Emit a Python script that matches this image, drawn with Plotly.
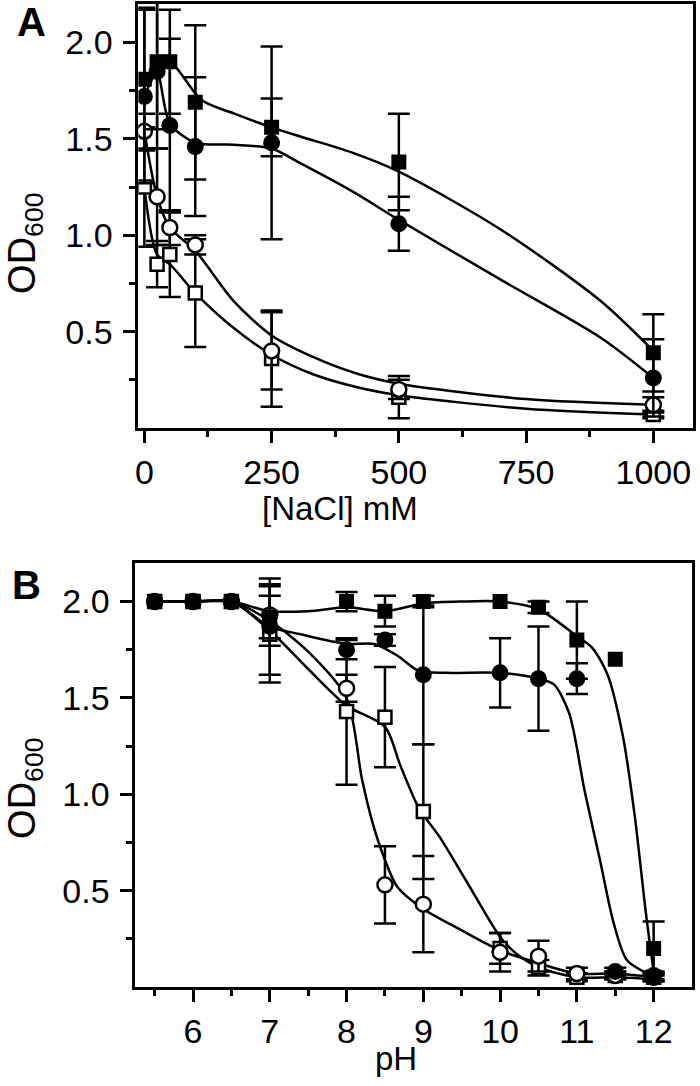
import plotly.graph_objects as go

# ---------------- Panel A : NaCl ----------------
nacl = [0, 25, 50, 100, 250, 500, 1000]
a_fsq = [1.81, 1.90, 1.90, 1.69, 1.56, 1.38, 0.39]
a_fsq_err = [0.37, 0.35, 0.27, 0.40, 0.15, 0.25, 0.20]
a_fci = [1.72, 1.85, 1.57, 1.46, 1.48, 1.06, 0.26]
a_fci_err = [0.45, 0.40, 0.45, 0.36, 0.50, 0.14, 0.20]
a_oci = [1.54, 1.20, 1.04, 0.95, 0.40, 0.20, 0.12]
a_oci_err = [0.09, 0.25, 0.09, 0.05, 0.20, 0.05, 0.04]
a_osq = [1.25, 0.85, 0.90, 0.70, 0.36, 0.16, 0.07]
a_osq_err = [0.31, 0.12, 0.22, 0.28, 0.25, 0.11, 0.02]

# fitted curves
a_fit_fsq_x = [0, 25, 50, 113, 178, 250, 309, 407, 500, 700, 896, 1000]
a_fit_fsq_y = [1.80, 1.88, 1.90, 1.70, 1.63, 1.56, 1.51, 1.43, 1.33, 1.03, 0.66, 0.40]
a_fit_fci_x = [0, 25, 50, 100, 175, 250, 309, 407, 500, 700, 896, 1000]
a_fit_fci_y = [1.72, 1.84, 1.58, 1.48, 1.47, 1.45, 1.37, 1.23, 1.08, 0.77, 0.47, 0.26]
a_fit_oci_x = [0, 25, 50, 100, 175, 250, 330, 420, 500, 750, 1000]
a_fit_oci_y = [1.54, 1.20, 1.04, 0.92, 0.66, 0.48, 0.37, 0.28, 0.23, 0.15, 0.12]
a_fit_osq_x = [0, 25, 50, 100, 175, 250, 330, 420, 500, 750, 1000]
a_fit_osq_y = [1.25, 0.90, 0.85, 0.70, 0.52, 0.38, 0.28, 0.21, 0.17, 0.10, 0.07]

# ---------------- Panel B : pH ----------------
ph = [5.5, 6, 6.5, 7, 8, 8.5, 9, 10, 10.5, 11, 11.5, 12]
b_fsq = [2.0, 2.0, 2.0, 1.92, 2.0, 1.95, 2.0, 2.0, 1.97, 1.80, 1.70, 0.20]
b_fsq_err = [None, None, None, 0.11, 0.05, 0.08, 0.03, None, 0.03, 0.20, None, 0.14]
b_fci = [2.0, 2.0, 2.0, 1.87, 1.75, 1.80, 1.62, 1.63, 1.60, 1.60, 0.08, 0.06]
b_fci_err = [None, None, None, 0.25, 0.05, 0.03, 0.36, 0.18, 0.27, 0.08, 0.02, 0.02]
b_oci = [2.0, 2.0, 2.0, 1.93, 1.55, 0.53, 0.43, 0.18, 0.16, 0.07, 0.06, 0.05]
b_oci_err = [None, None, None, 0.16, 0.07, 0.20, 0.25, 0.10, 0.08, 0.03, 0.02, 0.02]
b_osq = [2.0, 2.0, 2.0, 1.83, 1.43, 1.40, 0.91, 0.20, 0.10, 0.05, 0.06, 0.05]
b_osq_err = [None, None, None, 0.25, 0.38, 0.26, 0.35, 0.08, 0.04, 0.02, 0.02, 0.02]

b_fit_fsq_x = [5.5, 6, 6.5, 7, 7.5, 8, 8.5, 9, 9.5, 10, 10.5, 11, 11.2, 11.4, 11.6, 11.75, 11.9, 12]
b_fit_fsq_y = [2.0, 2.0, 2.0, 1.95, 1.95, 1.97, 1.95, 1.99, 2.0, 2.0, 1.96, 1.82, 1.76, 1.62, 1.30, 0.90, 0.38, 0.08]
b_fit_fci_x = [5.5, 6, 6.5, 7, 7.4, 8, 8.36, 8.66, 8.94, 9.3, 10, 10.5, 10.7, 10.9, 11.1, 11.3, 11.48, 11.65, 11.87, 12]
b_fit_fci_y = [2.0, 2.0, 2.0, 1.87, 1.83, 1.78, 1.78, 1.72, 1.64, 1.63, 1.63, 1.60, 1.57, 1.42, 1.02, 0.66, 0.33, 0.14, 0.08, 0.06]
b_fit_oci_x = [5.5, 6, 6.5, 7, 7.5, 8, 8.2, 8.34, 8.49, 8.66, 8.98, 9.47, 10, 10.45, 11, 11.5, 12]
b_fit_oci_y = [2.0, 2.0, 2.0, 1.90, 1.74, 1.50, 1.08, 0.85, 0.67, 0.52, 0.41, 0.30, 0.19, 0.13, 0.07, 0.07, 0.05]
b_fit_osq_x = [5.5, 6, 6.5, 7, 7.5, 8, 8.5, 8.7, 8.94, 9.21, 9.56, 10, 10.22, 10.52, 11, 11.5, 12]
b_fit_osq_y = [2.0, 2.0, 2.0, 1.85, 1.65, 1.46, 1.35, 1.15, 0.93, 0.78, 0.55, 0.26, 0.17, 0.10, 0.05, 0.05, 0.04]

FONT = "Arial, Liberation Sans, sans-serif"
W, H = 700, 1086

fig = go.Figure()


def add_fit(x, y, xa, ya):
    fig.add_trace(go.Scatter(x=x, y=y, xaxis=xa, yaxis=ya, mode="lines",
                             line=dict(color="black", width=2.5, shape="spline", smoothing=0.8),
                             showlegend=False, hoverinfo="skip"))


def add_pts(x, y, err, xa, ya, symbol, filled, size):
    marker = dict(symbol=symbol, size=size,
                  color="black" if filled else "white",
                  line=dict(color="black", width=0 if filled else 2.5))
    with_err = [i for i, e in enumerate(err) if e is not None]
    no_err = [i for i, e in enumerate(err) if e is None]
    if no_err:
        fig.add_trace(go.Scatter(
            x=[x[i] for i in no_err], y=[y[i] for i in no_err], xaxis=xa, yaxis=ya,
            mode="markers", showlegend=False, marker=marker))
    fig.add_trace(go.Scatter(
        x=[x[i] for i in with_err], y=[y[i] for i in with_err], xaxis=xa, yaxis=ya,
        mode="markers", showlegend=False, marker=marker,
        error_y=dict(type="data", array=[err[i] for i in with_err], color="black",
                     thickness=2.5, width=11)))


for (fx, fy) in [(a_fit_fsq_x, a_fit_fsq_y), (a_fit_fci_x, a_fit_fci_y),
                 (a_fit_oci_x, a_fit_oci_y), (a_fit_osq_x, a_fit_osq_y)]:
    add_fit(fx, fy, "x", "y")
for (fx, fy) in [(b_fit_fsq_x, b_fit_fsq_y), (b_fit_fci_x, b_fit_fci_y),
                 (b_fit_oci_x, b_fit_oci_y), (b_fit_osq_x, b_fit_osq_y)]:
    add_fit(fx, fy, "x2", "y2")

add_pts(nacl, a_osq, a_osq_err, "x", "y", "square", False, 13)
add_pts(nacl, a_oci, a_oci_err, "x", "y", "circle", False, 15)
add_pts(nacl, a_fsq, a_fsq_err, "x", "y", "square", True, 15)
add_pts(nacl, a_fci, a_fci_err, "x", "y", "circle", True, 17)

add_pts(ph, b_osq, b_osq_err, "x2", "y2", "square", False, 13)
add_pts(ph, b_oci, b_oci_err, "x2", "y2", "circle", False, 15)
add_pts(ph, b_fsq, b_fsq_err, "x2", "y2", "square", True, 15)
add_pts(ph, b_fci, b_fci_err, "x2", "y2", "circle", True, 17)

axis_common = dict(showline=True, linecolor="black", linewidth=3, mirror=True,
                   ticks="outside", ticklen=12, tickwidth=3, tickcolor="black",
                   showgrid=False, zeroline=False,
                   tickfont=dict(family=FONT, size=34, color="black"))

yticks = [0.5, 1.0, 1.5, 2.0]
yticktext = ["0.5", "1.0", "1.5", "2.0"]
ymin = dict(tickvals=[0.25, 0.75, 1.25, 1.75], ticklen=6, tickwidth=3, tickcolor="black", ticks="outside")

nacl_ticks = [0, 250, 500, 750, 1000]
ph_ticks = [6, 7, 8, 9, 10, 11, 12]

fig.update_layout(
    width=W, height=H, margin=dict(l=0, r=0, t=0, b=0),
    paper_bgcolor="white", plot_bgcolor="white",
    xaxis=dict(axis_common, domain=[136 / W, 693 / W], anchor="y", range=[-11.7, 1078],
               tickvals=nacl_ticks, ticktext=[str(v) for v in nacl_ticks],
               minor=dict(tickvals=[125, 375, 625, 875], ticklen=6, tickwidth=3,
                          tickcolor="black", ticks="outside")),
    yaxis=dict(axis_common, domain=[1 - 428 / H, 1 - 4 / H], anchor="x", range=[0, 2.2],
               tickvals=yticks, ticktext=yticktext, minor=ymin, ticklabelstandoff=4),
    xaxis2=dict(axis_common, domain=[133 / W, 692 / W], anchor="y2", range=[5.25, 12.5],
                tickvals=ph_ticks, ticktext=[str(v) for v in ph_ticks],
                minor=dict(tickvals=[5.5, 6.5, 7.5, 8.5, 9.5, 10.5, 11.5], ticklen=6, tickwidth=3,
                           tickcolor="black", ticks="outside")),
    yaxis2=dict(axis_common, domain=[1 - 987 / H, 1 - 563 / H], anchor="x2", range=[0, 2.2],
                tickvals=yticks, ticktext=yticktext, minor=ymin, ticklabelstandoff=4),
)


def ann(text, px, py, size, bold=False, angle=0):
    fig.add_annotation(text=f"<b>{text}</b>" if bold else text,
                       x=px / W, y=1 - py / H, xref="paper", yref="paper",
                       xanchor="center", yanchor="middle", showarrow=False, textangle=angle,
                       font=dict(family=FONT, size=size, color="black"))


ann("A", 29, 22, 40, bold=True)
ann("B", 24, 585, 40, bold=True)
ann("OD<sub>600</sub>", 22, 243, 38, angle=-90)
ann("OD<sub>600</sub>", 22, 788, 38, angle=-90)
ann("[NaCl] mM", 338, 508, 33)
ann("pH", 395, 1058, 33)

fig.write_html("out.html", config={"displayModeBar": False},
               post_script="document.body.style.margin='0';document.body.style.padding='0';")
